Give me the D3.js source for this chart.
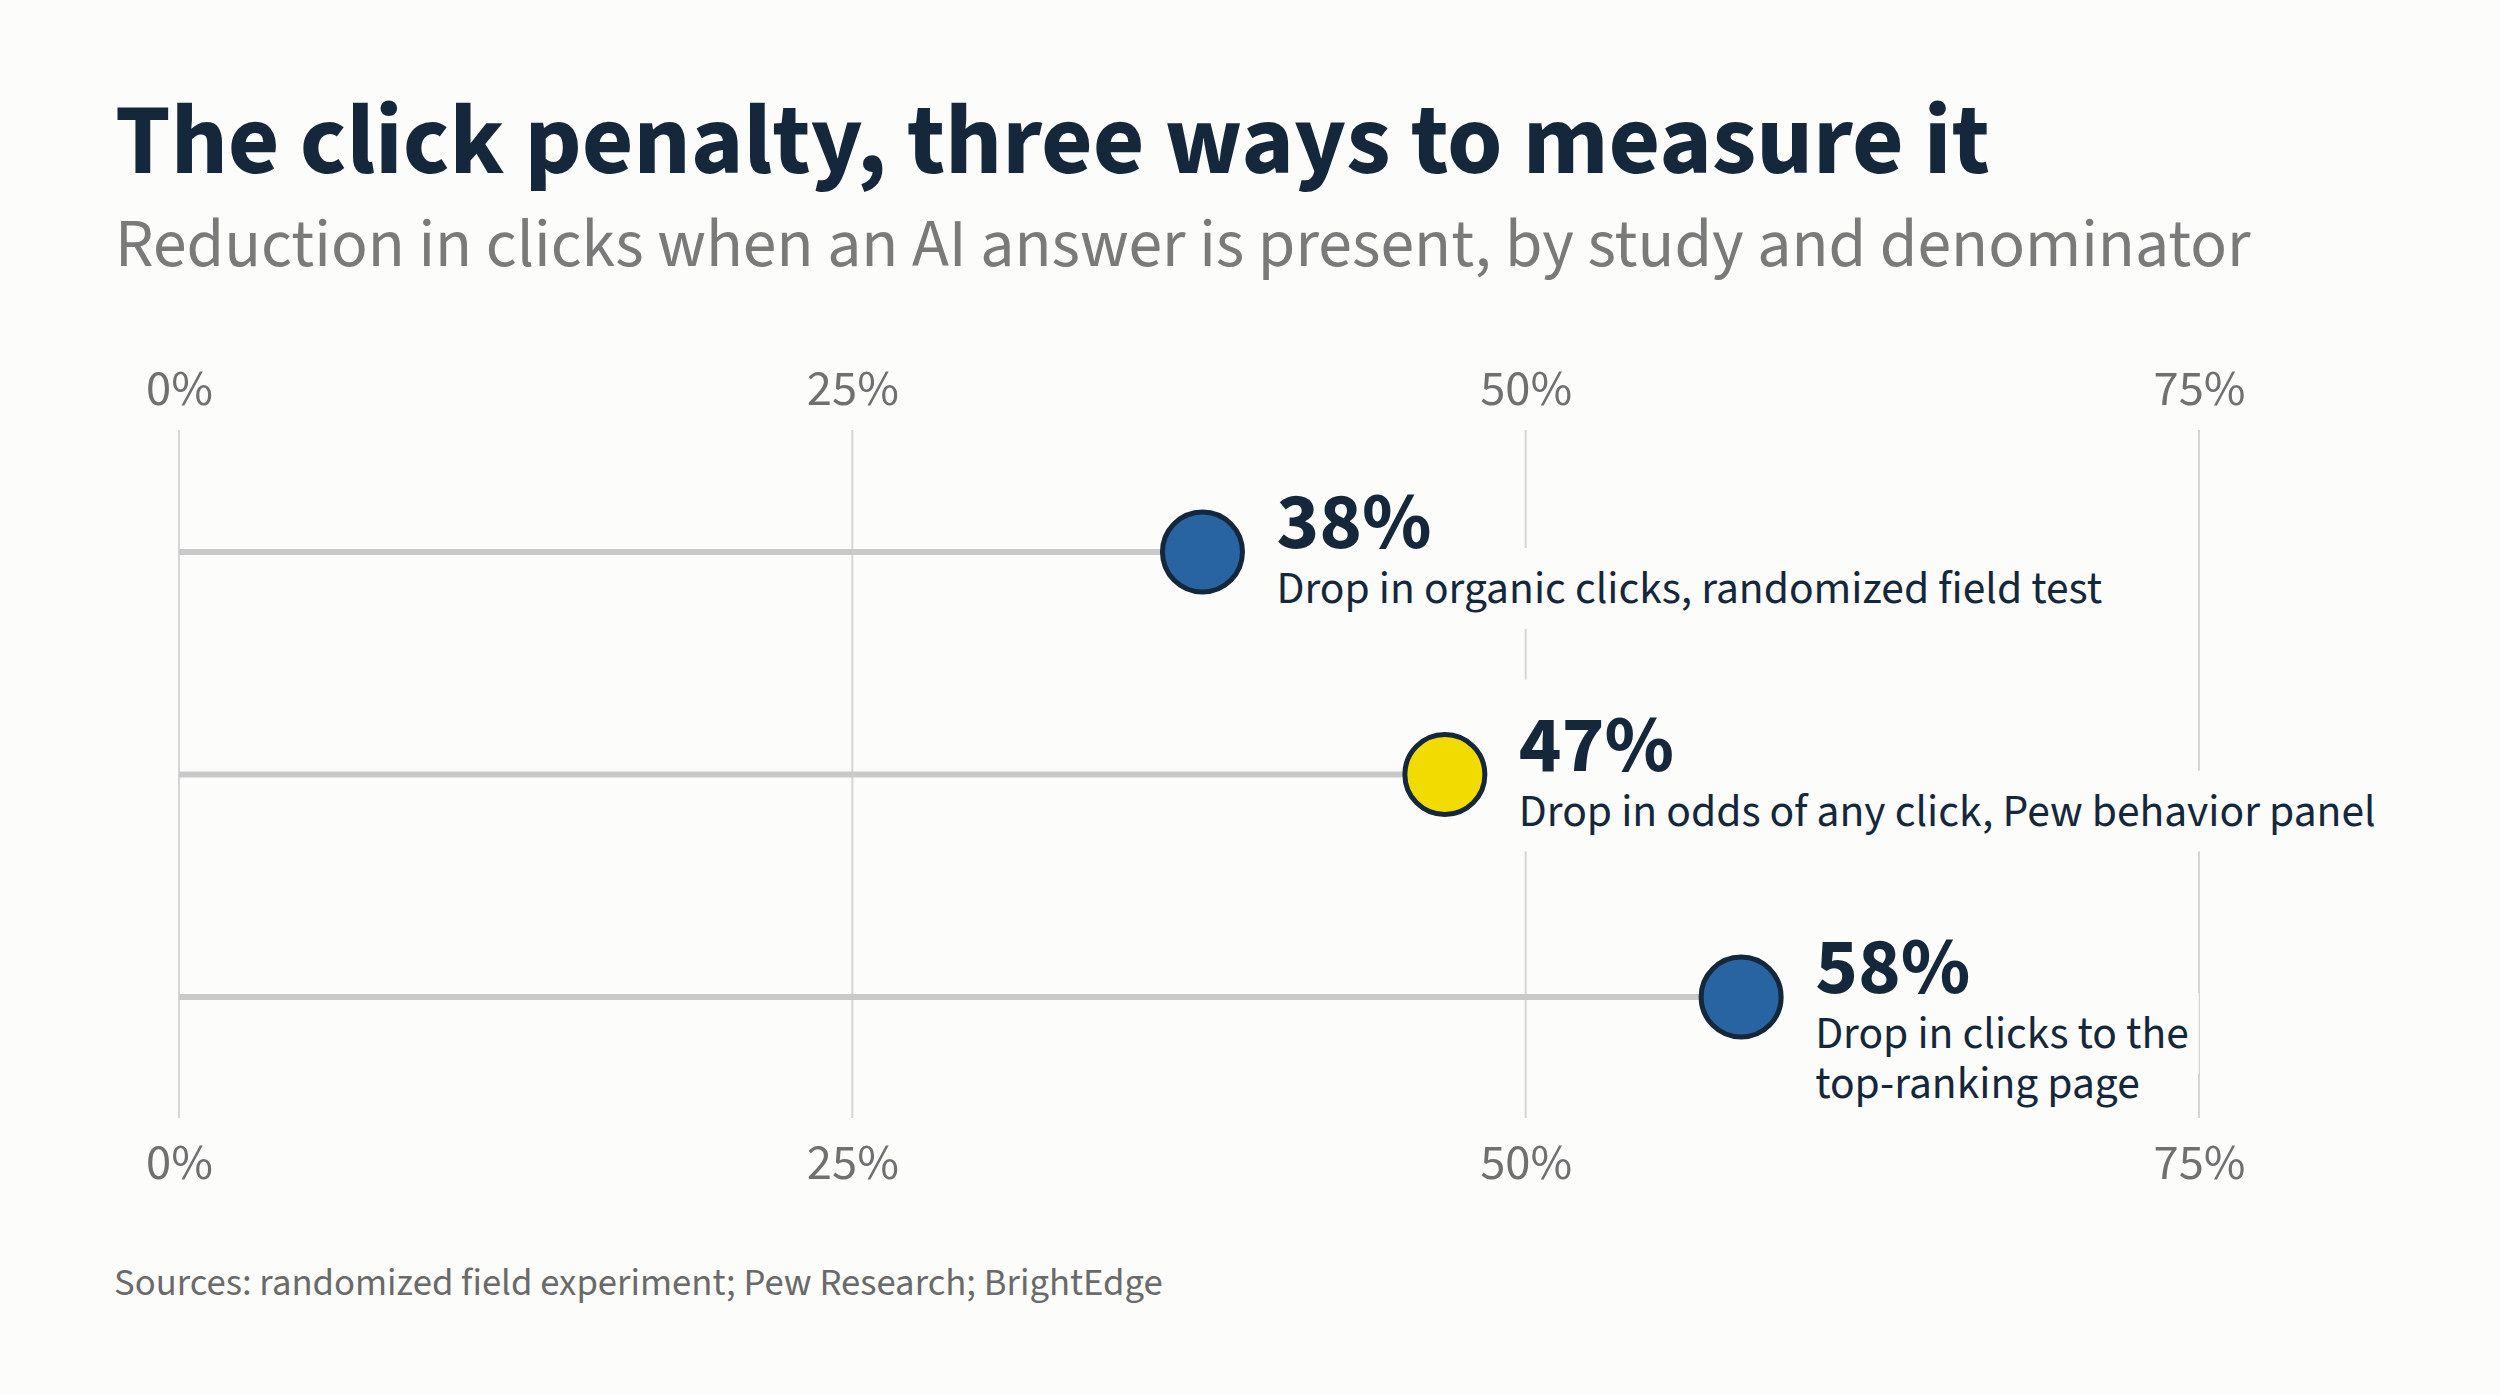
<!DOCTYPE html>
<html>
<head>
<meta charset="utf-8">
<script src="https://cdn.jsdelivr.net/npm/d3@7"></script>
<style>
  body { margin: 0; background: #fcfcfa; }
  svg { display: block; }
</style>
</head>
<body>
<div id="chart"></div>
<script>
// data
const values = [38, 47, 58];
const valueLabels = ["38%", "47%", "58%"];
const labelLines = [
  ["Drop in organic clicks, randomized field test"],
  ["Drop in odds of any click, Pew behavior panel"],
  ["Drop in clicks to the", "top-ranking page"]
];
const highlight = [false, true, false];
const tickValues = [0, 25, 50, 75];

const title = "The click penalty, three ways to measure it";
const subtitle = "Reduction in clicks when an AI answer is present, by study and denominator";
const source = "Sources: randomized field experiment; Pew Research; BrightEdge";

const W = 2500, H = 1395;
const BG = "#fcfcfa";
const INK = "#15273a";
const FONT = "'Source Sans Pro', 'Source Sans 3', Lato, sans-serif";

const svg = d3.select("#chart").append("svg")
  .attr("width", W)
  .attr("height", H)
  .attr("font-family", FONT);

svg.append("rect").attr("width", W).attr("height", H).attr("fill", BG);

// shrink/grow a text node so it spans the width seen in the reference
function fitWidth(sel, target) {
  const fs = parseFloat(sel.attr("font-size"));
  const w = sel.node().getComputedTextLength();
  const size = fs * target / w;
  sel.attr("font-size", size);
  return size;
}

// header
fitWidth(svg.append("text")
  .attr("x", 115).attr("y", 173)
  .attr("font-size", 100).attr("font-weight", 700)
  .attr("fill", INK)
  .text(title), 1875);

fitWidth(svg.append("text")
  .attr("x", 115).attr("y", 266)
  .attr("font-size", 65)
  .attr("fill", "#7a7a7a")
  .text(subtitle), 2136);

fitWidth(svg.append("text")
  .attr("x", 114).attr("y", 1295)
  .attr("font-size", 38)
  .attr("fill", "#6a6a6a")
  .text(source), 1049);

// scales
const x = d3.scaleLinear().domain([0, 75]).range([179, 2199]);
const y = d3.scalePoint().domain(d3.range(values.length)).range([552, 997]);

// vertical gridlines
svg.append("g")
  .selectAll("line")
  .data(tickValues)
  .join("line")
  .attr("x1", d => x(d)).attr("x2", d => x(d))
  .attr("y1", 430).attr("y2", 1118)
  .attr("stroke", "#d5d5d5")
  .attr("stroke-width", 2);

// axes (labels only, top and bottom)
const fmt = d => d + "%";
const topAxis = svg.append("g")
  .attr("transform", "translate(0,405)")
  .call(d3.axisTop(x).tickValues(tickValues).tickFormat(fmt).tickSize(0).tickPadding(0));
const bottomAxis = svg.append("g")
  .attr("transform", "translate(0,1179)")
  .call(d3.axisBottom(x).tickValues(tickValues).tickFormat(fmt).tickSize(0).tickPadding(0));

[topAxis, bottomAxis].forEach(g => {
  g.select(".domain").remove();
  g.selectAll("text")
    .attr("y", 0).attr("dy", 0)
    .attr("fill", "#707070")
    .style("font-family", FONT)
    .style("font-size", "50px");
});
// size ticks from the "25%" label width
const tickSample = topAxis.selectAll("text").filter(d => d === 25);
const tickSize = 50 * 92 / tickSample.node().getComputedTextLength();
svg.selectAll(".tick text").style("font-size", tickSize + "px");

// stems
svg.append("g")
  .selectAll("line")
  .data(values)
  .join("line")
  .attr("x1", x(0))
  .attr("x2", d => x(d))
  .attr("y1", (d, i) => y(i))
  .attr("y2", (d, i) => y(i))
  .attr("stroke", "#c9c9c9")
  .attr("stroke-width", 6);

// dots
svg.append("g")
  .selectAll("circle")
  .data(values)
  .join("circle")
  .attr("cx", d => x(d))
  .attr("cy", (d, i) => y(i))
  .attr("r", 40)
  .attr("fill", (d, i) => highlight[i] ? "#f1db00" : "#2764a1")
  .attr("stroke", INK)
  .attr("stroke-width", 5);

// labels with a background block per line so gridlines break behind them
const labels = svg.append("g")
  .selectAll("g")
  .data(values)
  .join("g")
  .attr("transform", (d, i) => `translate(${x(d) + 74},${y(i)})`);

const bgs = labels.append("g");

const valueText = labels.append("text")
  .attr("y", -4)
  .attr("font-size", 86)
  .attr("font-weight", 700)
  .attr("fill", INK)
  .text((d, i) => valueLabels[i]);

labels.each(function(d, i) {
  d3.select(this).selectAll("text.desc")
    .data(labelLines[i])
    .join("text")
    .attr("class", "desc")
    .attr("y", (t, j) => 51 + j * 50)
    .attr("font-size", 45)
    .attr("fill", INK)
    .text(t => t);
});

// match reference widths: "38%" ~155px, Pew line ~857px
const vScale = 155 / valueText.filter((d, i) => i === 0).node().getComputedTextLength();
valueText.attr("font-size", 86 * vScale);
const pewNode = labels.filter((d, i) => i === 1).select("text.desc").node();
const dScale = 857 / pewNode.getComputedTextLength();
labels.selectAll("text.desc").attr("font-size", 45 * dScale);

labels.each(function() {
  const g = d3.select(this);
  const bg = g.select("g");
  g.selectAll("text").each(function() {
    const b = this.getBBox();
    bg.append("rect")
      .attr("x", b.x - 10)
      .attr("y", b.y - 8)
      .attr("width", b.width + 20)
      .attr("height", b.height + 16)
      .attr("fill", BG);
  });
});
</script>
</body>
</html>
